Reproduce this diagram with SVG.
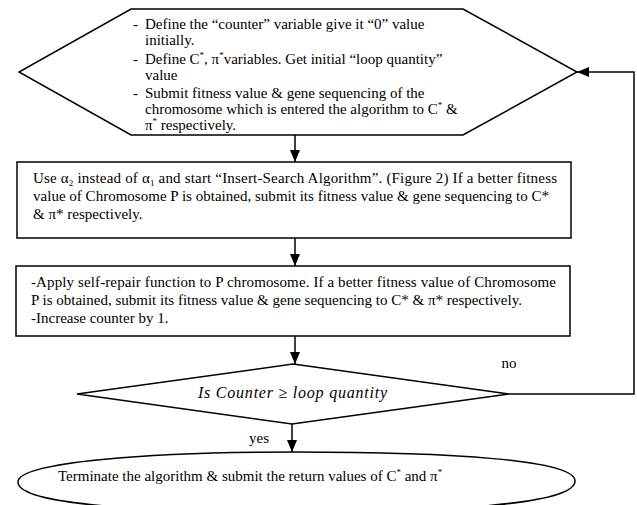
<svg xmlns="http://www.w3.org/2000/svg" width="637" height="505" viewBox="0 0 637 505">
<defs>
<marker id="ah" viewBox="0 0 12 10" refX="12" refY="5" markerWidth="12" markerHeight="10" markerUnits="userSpaceOnUse" orient="auto">
<path d="M0,0 L12,5 L0,10 Z" fill="#000"/>
</marker>
<style>
.s{fill:#fff;stroke:#000;stroke-width:1.5}
.t{font-family:"Liberation Serif","Times New Roman",serif;font-size:15px;fill:#000}
.m{font-family:"Liberation Serif","Times New Roman",serif;font-style:italic;font-size:16px;fill:#000}
.c{fill:none;stroke:#000;stroke-width:1.5}
.sup{font-size:9px}
</style>
</defs>
<rect width="637" height="505" fill="#fff"/>
<g id="start">
<polygon class="s" points="131,9 463,9 577,72 463,135 131,135 19,72"/>
<text class="t"><tspan x="133" y="29">-</tspan><tspan x="145" y="29">Define the “counter” variable give it “0” value</tspan></text>
<text class="t" x="145" y="45">initially.</text>
<text class="t"><tspan x="133" y="64">-</tspan><tspan x="145" y="64">Define C</tspan><tspan class="sup" dy="-6">*</tspan><tspan dy="6">, π</tspan><tspan class="sup" dy="-6">*</tspan><tspan dy="6">variables. Get initial “loop quantity”</tspan></text>
<text class="t" x="145" y="80">value</text>
<text class="t"><tspan x="133" y="98">-</tspan><tspan x="145" y="98">Submit fitness value &amp; gene sequencing of the</tspan></text>
<text class="t"><tspan x="145" y="114">chromosome which is entered the algorithm to C</tspan><tspan class="sup" dy="-6">*</tspan><tspan dy="6"> &amp;</tspan></text>
<text class="t"><tspan x="145" y="130">π</tspan><tspan class="sup" dy="-6">*</tspan><tspan dy="6"> respectively.</tspan></text>
</g>
<g id="insert">
<rect class="s" x="17" y="162" width="554" height="76"/>
<text class="t" textLength="524" lengthAdjust="spacing"><tspan x="33" y="183">Use α</tspan><tspan class="sup" dy="3">2</tspan><tspan dy="-3"> instead of α</tspan><tspan class="sup" dy="3">1</tspan><tspan dy="-3"> and start “Insert-Search Algorithm”. (Figure 2) If a better fitness</tspan></text>
<text class="t" x="33" y="201" textLength="516" lengthAdjust="spacing">value of Chromosome P is obtained, submit its fitness value &amp; gene sequencing to C*</text>
<text class="t" x="33" y="219">&amp; π* respectively.</text>
</g>
<g id="repair">
<rect class="s" x="16" y="266" width="554" height="70"/>
<text class="t" x="31" y="287" textLength="525" lengthAdjust="spacing">-Apply self-repair function to P chromosome. If a better fitness value of Chromosome</text>
<text class="t" x="31" y="305">P is obtained, submit its fitness value &amp; gene sequencing to C* &amp; π* respectively.</text>
<text class="t" x="31" y="323">-Increase counter by 1.</text>
</g>
<g id="decision">
<polygon class="s" points="77,394 293,364 509,394 292,424"/>
<text class="m" x="198" y="398" textLength="189" lengthAdjust="spacing">Is Counter  ≥  loop quantity</text>
</g>
<g id="end">
<path class="s" d="M18,482 C18,462 150,452 296,452 C450,452 575,460 575,481 C575,505 440,512 296,512 C150,512 18,505 18,482 Z"/>
<text class="t"><tspan x="58" y="481">Terminate the algorithm &amp; submit the return values of C</tspan><tspan class="sup" dy="-6">*</tspan><tspan dy="6"> and π</tspan><tspan class="sup" dy="-6">*</tspan></text>
</g>
<g id="connectors">
<line class="c" x1="295" y1="135" x2="295" y2="162" marker-end="url(#ah)"/>
<line class="c" x1="295" y1="238" x2="295" y2="266" marker-end="url(#ah)"/>
<line class="c" x1="295" y1="336" x2="295" y2="364" marker-end="url(#ah)"/>
<line class="c" x1="292" y1="424" x2="292" y2="452" marker-end="url(#ah)"/>
<polyline class="c" points="509,394 634,394 634,72 577,72" marker-end="url(#ah)"/>
<text class="t" x="509" y="368" text-anchor="middle">no</text>
<text class="t" x="259" y="443" text-anchor="middle">yes</text>
</g>
</svg>
